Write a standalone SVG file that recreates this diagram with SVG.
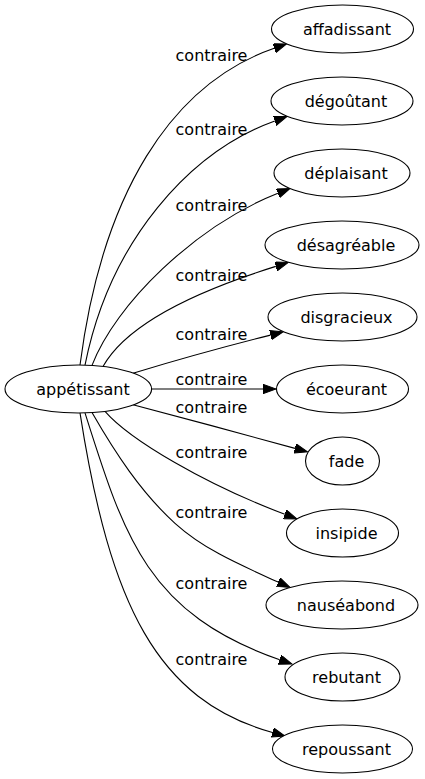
<svg xmlns="http://www.w3.org/2000/svg" width="425" height="779" viewBox="0 0 425 779">
<style>
.node ellipse{fill:#ffffff;stroke:#000000;stroke-width:1.1}
.node text{font-family:"DejaVu Sans",sans-serif;font-size:16px;fill:#000000;text-anchor:middle}
.edges path{fill:none;stroke:#000000;stroke-width:1.1}
.edges text{font-family:"DejaVu Sans",sans-serif;font-size:16px;fill:#000000;text-anchor:middle}
</style>
<defs>
<marker id="arr" markerUnits="userSpaceOnUse" markerWidth="14" markerHeight="10" refX="0" refY="4.7" orient="auto">
<path d="M0,0 L13,4.7 L0,9.4 z" fill="#000000" stroke="#000000" stroke-width="1"/>
</marker>
</defs>
<rect width="425" height="779" fill="#ffffff"/>
<g class="edges">
<path marker-end="url(#arr)" d="M80,365 C102,195 170.25,84.3 274.2,48.3"/>
<text x="211.5" y="61">contraire</text>
<path marker-end="url(#arr)" d="M85,365.1 C110,240 190.2,151.5 274.8,120.9"/>
<text x="211.5" y="135">contraire</text>
<path marker-end="url(#arr)" d="M92,365.4 C115,305 194.2,226.6 277.9,193.3"/>
<text x="211.5" y="211">contraire</text>
<path marker-end="url(#arr)" d="M103,366.4 C128,322 200,290 275.8,266.4"/>
<text x="211.5" y="280.5">contraire</text>
<path marker-end="url(#arr)" d="M133,373.2 C170,362 225,346.5 270.5,335.1"/>
<text x="211.5" y="339.5">contraire</text>
<path marker-end="url(#arr)" d="M151.5,389 L263,389"/>
<text x="211.5" y="385">contraire</text>
<path marker-end="url(#arr)" d="M133,404.8 C180,417 250,436 295,448.4"/>
<text x="211.5" y="412.5">contraire</text>
<path marker-end="url(#arr)" d="M105,411.3 C130,440 205,484 284.8,514.3"/>
<text x="211.5" y="458">contraire</text>
<path marker-end="url(#arr)" d="M92,412.6 C115,452.6 141,492.5 175,523.3 C204.6,550.1 241.8,565.5 278.2,582.1"/>
<text x="211.5" y="518">contraire</text>
<path marker-end="url(#arr)" d="M85,412.9 C124,536.4 147.4,613.8 279.7,659.7"/>
<text x="211.5" y="589">contraire</text>
<path marker-end="url(#arr)" d="M80,412.9 C110,605 156.9,700.2 272.5,732.5"/>
<text x="211.5" y="664.5">contraire</text>
</g>
<g id="n0" class="node"><ellipse cx="78.3" cy="389" rx="73.3" ry="24"/><text x="83" y="394.5">appétissant</text></g>
<g id="n1" class="node"><ellipse cx="342.5" cy="29" rx="71" ry="24"/><text x="347" y="34.5">affadissant</text></g>
<g id="n2" class="node"><ellipse cx="342" cy="101" rx="71" ry="24"/><text x="346" y="106.5">dégoûtant</text></g>
<g id="n3" class="node"><ellipse cx="342" cy="173" rx="68" ry="24"/><text x="346" y="178.5">déplaisant</text></g>
<g id="n4" class="node"><ellipse cx="342" cy="245" rx="77" ry="24"/><text x="346" y="250.5">désagréable</text></g>
<g id="n5" class="node"><ellipse cx="342.5" cy="317" rx="74.5" ry="24"/><text x="346.5" y="322.5">disgracieux</text></g>
<g id="n6" class="node"><ellipse cx="342.5" cy="389" rx="66" ry="24"/><text x="346.5" y="394.5">écoeurant</text></g>
<g id="n7" class="node"><ellipse cx="342.5" cy="461" rx="37" ry="24"/><text x="346.5" y="466.5">fade</text></g>
<g id="n8" class="node"><ellipse cx="342.5" cy="533" rx="56" ry="24"/><text x="346.5" y="538.5">insipide</text></g>
<g id="n9" class="node"><ellipse cx="342" cy="605" rx="76" ry="24"/><text x="346" y="610.5">nauséabond</text></g>
<g id="n10" class="node"><ellipse cx="342.5" cy="677" rx="57.5" ry="24"/><text x="346.5" y="682.5">rebutant</text></g>
<g id="n11" class="node"><ellipse cx="342.5" cy="749" rx="70" ry="24"/><text x="346.5" y="754.5">repoussant</text></g>
</svg>
